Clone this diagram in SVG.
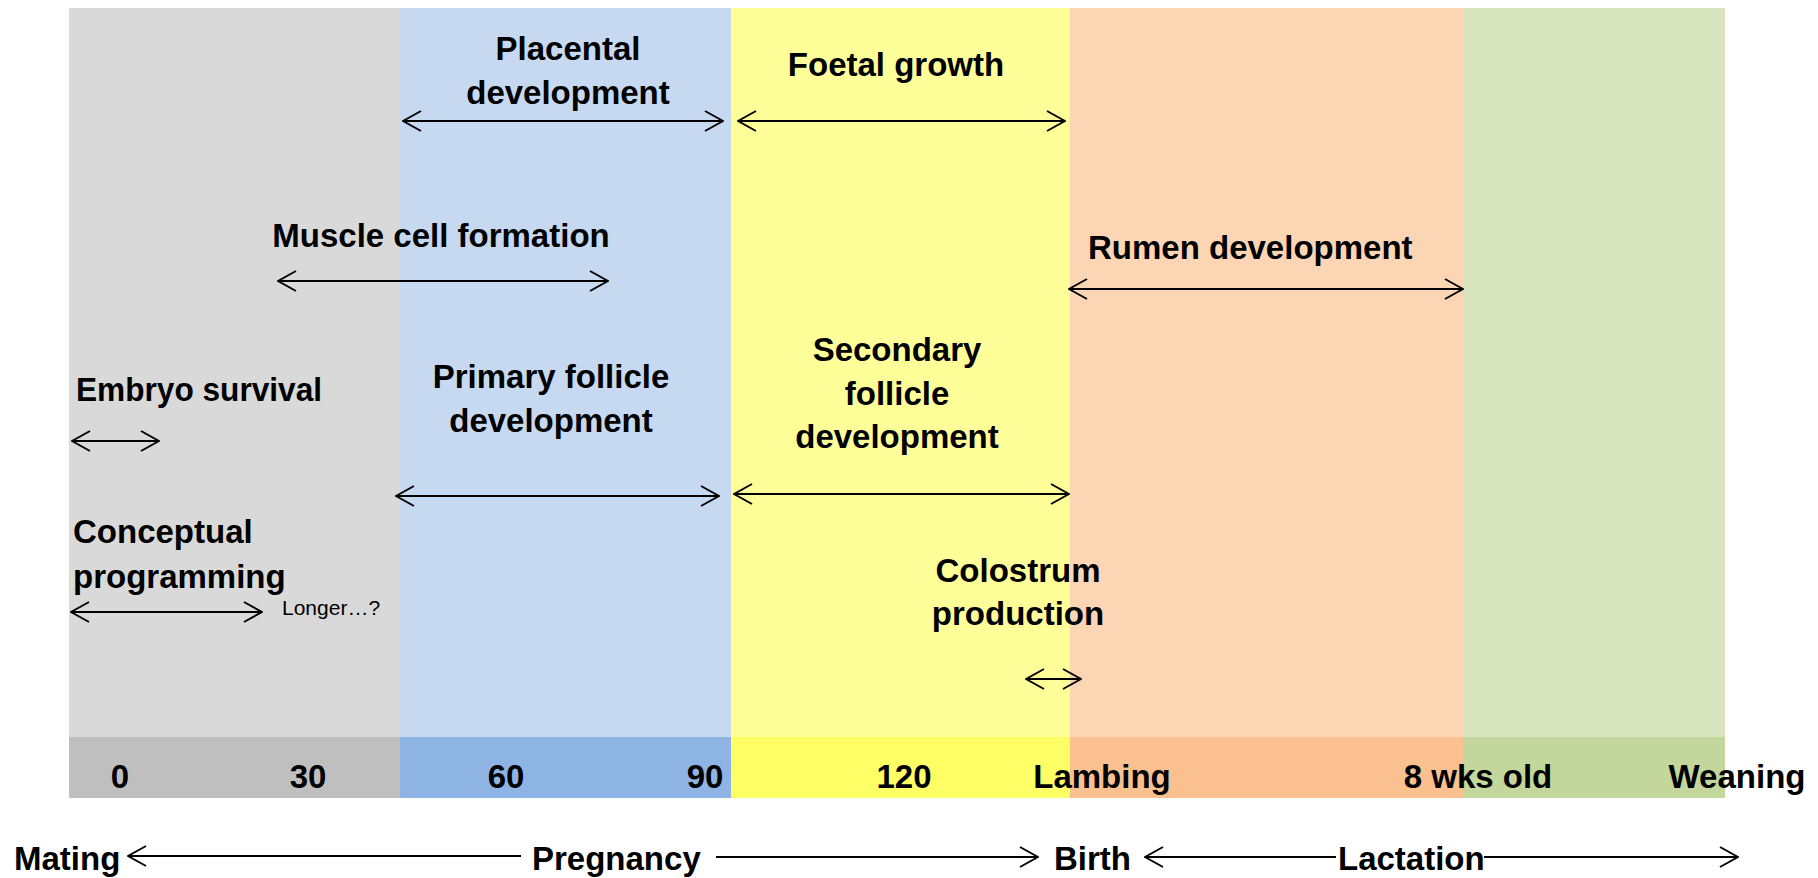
<svg xmlns="http://www.w3.org/2000/svg" width="1818" height="878" viewBox="0 0 1818 878">
<style>
.t{font-family:"Liberation Sans",Arial,sans-serif;font-weight:bold;font-size:33px;fill:#000}
.s{font-family:"Liberation Sans",Arial,sans-serif;font-size:21px;fill:#000}
.c{text-anchor:middle}
.a{stroke:#000;stroke-width:2;fill:none}
</style>
<defs>
<marker id="ah" viewBox="0 0 20 22" refX="19" refY="11" markerWidth="20" markerHeight="22" markerUnits="userSpaceOnUse" orient="auto-start-reverse">
<path d="M1,1 L19,11 L1,21" fill="none" stroke="#000" stroke-width="2"/>
</marker>
</defs>
<rect width="1818" height="878" fill="#fff"/>
<g id="band-early">
<rect x="69" y="8" width="331" height="729" fill="#D9D9D9"/>
<rect x="69" y="737" width="331" height="61" fill="#BFBFBF"/>
</g>
<g id="band-mid">
<rect x="400" y="8" width="331" height="729" fill="#C6D9F1"/>
<rect x="400" y="737" width="331" height="61" fill="#8EB4E3"/>
</g>
<g id="band-late">
<rect x="731" y="8" width="339" height="729" fill="#FFFF99"/>
<rect x="731" y="737" width="339" height="61" fill="#FFFF66"/>
</g>
<g id="band-lactation">
<rect x="1070" y="8" width="393" height="729" fill="#FCD5B5"/>
<rect x="1070" y="737" width="393" height="61" fill="#FAC090"/>
</g>
<g id="band-weaning">
<rect x="1463" y="8" width="262" height="729" fill="#D7E4BD"/>
<rect x="1463" y="737" width="262" height="61" fill="#C3D69B"/>
</g>
<g id="lbl-placental"><text class="t c" x="568" y="60">Placental</text><text class="t c" x="568" y="104">development</text></g>
<g id="lbl-foetal"><text class="t c" x="896" y="76">Foetal growth</text></g>
<g id="lbl-muscle"><text class="t c" x="441" y="247">Muscle cell formation</text></g>
<g id="lbl-rumen"><text class="t" x="1088" y="259">Rumen development</text></g>
<g id="lbl-embryo"><text class="t" x="76" y="401" textLength="246" lengthAdjust="spacingAndGlyphs">Embryo survival</text></g>
<g id="lbl-conceptual"><text class="t" x="73" y="543">Conceptual</text><text class="t" x="73" y="588">programming</text><text class="s" x="282" y="615">Longer…?</text></g>
<g id="lbl-primary"><text class="t c" x="551" y="388">Primary follicle</text><text class="t c" x="551" y="432">development</text></g>
<g id="lbl-secondary"><text class="t c" x="897" y="361">Secondary</text><text class="t c" x="897" y="405">follicle</text><text class="t c" x="897" y="448">development</text></g>
<g id="lbl-colostrum"><text class="t c" x="1018" y="582">Colostrum</text><text class="t c" x="1018" y="625">production</text></g>
<g id="axis-labels">
<text class="t c" x="120" y="788">0</text>
<text class="t c" x="308" y="788">30</text>
<text class="t c" x="506" y="788">60</text>
<text class="t c" x="705" y="788">90</text>
<text class="t c" x="904" y="788">120</text>
<text class="t c" x="1102" y="788">Lambing</text>
<text class="t c" x="1478" y="788">8 wks old</text>
<text class="t c" x="1737" y="788">Weaning</text>
</g>
<g id="phase-labels">
<text class="t" x="14" y="870">Mating</text>
<text class="t" x="532" y="870">Pregnancy</text>
<text class="t" x="1054" y="870">Birth</text>
<text class="t" x="1338" y="870">Lactation</text>
</g>
<g id="connectors">
<line class="a" x1="403" y1="121" x2="723" y2="121" marker-start="url(#ah)" marker-end="url(#ah)"/>
<line class="a" x1="738" y1="121" x2="1065" y2="121" marker-start="url(#ah)" marker-end="url(#ah)"/>
<line class="a" x1="278" y1="281" x2="608" y2="281" marker-start="url(#ah)" marker-end="url(#ah)"/>
<line class="a" x1="1069" y1="289" x2="1463" y2="289" marker-start="url(#ah)" marker-end="url(#ah)"/>
<line class="a" x1="72" y1="441" x2="159" y2="441" marker-start="url(#ah)" marker-end="url(#ah)"/>
<line class="a" x1="396" y1="496" x2="719" y2="496" marker-start="url(#ah)" marker-end="url(#ah)"/>
<line class="a" x1="734" y1="494" x2="1069" y2="494" marker-start="url(#ah)" marker-end="url(#ah)"/>
<line class="a" x1="71" y1="612" x2="262" y2="612" marker-start="url(#ah)" marker-end="url(#ah)"/>
<line class="a" x1="1026" y1="679" x2="1081" y2="679" marker-start="url(#ah)" marker-end="url(#ah)"/>
<line class="a" x1="128" y1="856" x2="521" y2="856" marker-start="url(#ah)"/>
<line class="a" x1="716" y1="857" x2="1038" y2="857" marker-end="url(#ah)"/>
<line class="a" x1="1145" y1="857" x2="1336" y2="857" marker-start="url(#ah)"/>
<line class="a" x1="1484" y1="857" x2="1738" y2="857" marker-end="url(#ah)"/>
</g>
</svg>
